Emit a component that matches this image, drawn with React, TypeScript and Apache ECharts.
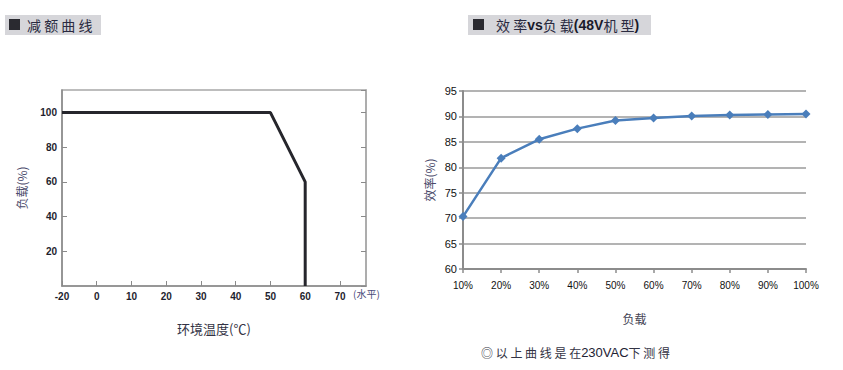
import React, { useEffect, useRef } from "react";
import * as echarts from "echarts";

const deratingTitle = "减额曲线";
const efficiencyTitle = "效率vs负载(48V机型)";
const deratingTemps = [-20, 50, 60, 60];
const deratingLoads = [100, 100, 60, 0];
const loadCategories = ["10%", "20%", "30%", "40%", "50%", "60%", "70%", "80%", "90%", "100%"];
const efficiencyValues = [70.3, 81.8, 85.5, 87.6, 89.2, 89.7, 90.1, 90.3, 90.4, 90.5];

// the reference's temperature axis is compressed below 0 (-20 sits one step left of 0)
const toAxis = (t: number) => (t < 0 ? t / 2 : t);
const fromAxis = (v: number) => (v < 0 ? v * 2 : v);

const CJK = '"Noto Sans CJK SC", "Noto Sans", sans-serif';
const LAT = '"Liberation Sans", Arial, sans-serif';

export default function App() {
  const ref = useRef<HTMLDivElement>(null);
  useEffect(() => {
    if (!ref.current) return;
    const chart = echarts.init(ref.current, null, { renderer: "svg" });
    const tickBase = {
      axisLine: { show: true, onZero: false, lineStyle: { color: "#8a8a8a", width: 1.5 } },
      axisTick: { show: true, inside: true, length: 5, lineStyle: { color: "#8a8a8a" } },
    };
    chart.setOption({
      animation: false,
      backgroundColor: "#ffffff",
      grid: [
        { left: 62, top: 90, width: 304, height: 196, show: true, borderColor: "#a8a8a8", borderWidth: 1.5, backgroundColor: "transparent" },
        { left: 463, top: 91, width: 343, height: 178, show: false },
      ],
      xAxis: [
        {
          gridIndex: 0,
          type: "value",
          min: -10,
          max: 77.5,
          interval: 10,
          ...tickBase,
          axisLabel: {
            color: "#1e1e2e",
            fontSize: 10,
            fontWeight: "bold",
            fontFamily: LAT,
            margin: 5,
            showMaxLabel: false,
            formatter: (v: number) => String(fromAxis(v)),
          },
          splitLine: { show: false },
          name: "环境温度(℃)",
          nameLocation: "middle",
          nameGap: 36,
          nameTextStyle: { color: "#333344", fontSize: 13, fontFamily: CJK },
        },
        {
          gridIndex: 1,
          type: "category",
          data: loadCategories,
          boundaryGap: false,
          axisLine: { show: true, onZero: false, lineStyle: { color: "#8c8c8c", width: 2 } },
          axisTick: { show: true, length: 4, lineStyle: { color: "#8c8c8c", width: 1.5 } },
          axisLabel: { color: "#111111", fontSize: 10, fontFamily: LAT, margin: 11 },
          name: "负载",
          nameLocation: "middle",
          nameGap: 43,
          nameTextStyle: { color: "#444455", fontSize: 12, fontFamily: CJK },
        },
      ],
      yAxis: [
        {
          gridIndex: 0,
          type: "value",
          min: 0,
          max: 113,
          interval: 20,
          ...tickBase,
          axisLabel: {
            color: "#1e1e2e",
            fontSize: 10,
            fontWeight: "bold",
            fontFamily: LAT,
            margin: 5,
            showMinLabel: false,
            showMaxLabel: false,
          },
          splitLine: { show: false },
          name: "负载(%)",
          nameLocation: "middle",
          nameGap: 35,
          nameTextStyle: { color: "#4a4a6a", fontSize: 12, fontFamily: CJK },
        },
        {
          gridIndex: 0,
          type: "value",
          position: "right",
          min: 0,
          max: 113,
          interval: 20,
          axisLine: { show: true, onZero: false, lineStyle: { color: "#a8a8a8", width: 1.5 } },
          axisTick: { show: true, inside: true, length: 5, lineStyle: { color: "#8a8a8a" } },
          axisLabel: { show: false },
          splitLine: { show: false },
        },
        {
          gridIndex: 1,
          type: "value",
          min: 60,
          max: 95,
          interval: 5,
          axisLine: { show: true, onZero: false, lineStyle: { color: "#8c8c8c", width: 2 } },
          axisTick: { show: true, length: 4, lineStyle: { color: "#8c8c8c", width: 1.5 } },
          axisLabel: { color: "#111111", fontSize: 11, fontFamily: LAT, margin: 6 },
          splitLine: { show: true, lineStyle: { color: "#9a9a9a", width: 1.5 } },
          name: "效率(%)",
          nameLocation: "middle",
          nameGap: 28,
          nameTextStyle: { color: "#4a4a6a", fontSize: 12, fontFamily: CJK },
        },
      ],
      series: [
        {
          type: "line",
          xAxisIndex: 0,
          yAxisIndex: 0,
          data: deratingTemps.map((t, i) => [toAxis(t), deratingLoads[i]]),
          symbol: "none",
          lineStyle: { color: "#26262c", width: 3 },
        },
        {
          type: "line",
          xAxisIndex: 1,
          yAxisIndex: 2,
          data: efficiencyValues,
          symbol: "diamond",
          symbolSize: 9,
          itemStyle: { color: "#4a7ebb" },
          lineStyle: { color: "#4a7ebb", width: 2.5 },
        },
      ],
      graphic: [
        {
          type: "group",
          left: 5,
          top: 15,
          children: [
            { type: "rect", shape: { x: 0, y: 0, width: 96, height: 20 }, style: { fill: "#d6d6da" } },
            { type: "rect", shape: { x: 4, y: 4, width: 11, height: 11 }, style: { fill: "#2a2a30" } },
            {
              type: "text",
              x: 22,
              y: 10,
              style: { text: deratingTitle.split("").join(" "), fill: "#2a2a40", font: `14px ${CJK}`, verticalAlign: "middle" },
            },
          ],
        },
        {
          type: "group",
          left: 468,
          top: 15,
          children: [
            { type: "rect", shape: { x: 0, y: 0, width: 183, height: 20 }, style: { fill: "#d6d6da" } },
            { type: "rect", shape: { x: 5, y: 4, width: 11, height: 11 }, style: { fill: "#2a2a30" } },
            {
              type: "text",
              x: 28,
              y: 10,
              style: {
                text: "{c|效 率}{b|vs}{c|负 载}{b|(48V}{c|机 型}{b|)}",
                verticalAlign: "middle",
                rich: {
                  c: { fill: "#2a2a40", font: `14px ${CJK}` },
                  b: { fill: "#1a1a2a", font: `bold 14px ${LAT}` },
                },
              },
            },
          ],
        },
        {
          type: "text",
          left: 353,
          top: 288,
          style: { text: "(水平)", fill: "#4a4a7a", font: `10px ${CJK}` },
        },
        {
          type: "text",
          left: 481,
          top: 346,
          style: {
            text: "{c|◎ 以 上 曲 线 是 在}{b|230VAC}{c|下 测 得}",
            rich: {
              c: { fill: "#333344", font: `12px ${CJK}` },
              b: { fill: "#222233", font: `13px ${LAT}` },
            },
          },
        },
      ],
    });
    return () => chart.dispose();
  }, []);
  return (
    <div
      ref={ref}
      style={{ position: "fixed", left: 0, top: 0, width: 843, height: 370, background: "#fff" }}
    />
  );
}
